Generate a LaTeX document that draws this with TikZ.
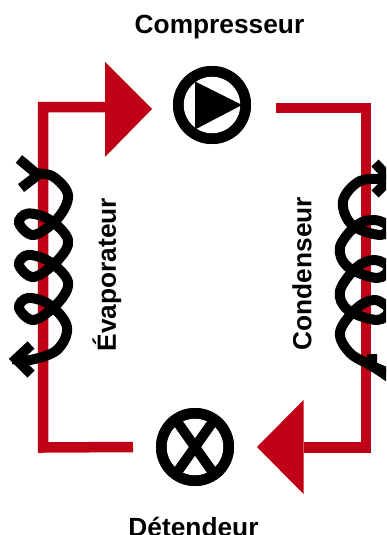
\documentclass[tikz,border=0pt]{standalone}
\usepackage{fontspec}
\setmainfont{Liberation Sans}
\definecolor{cred}{HTML}{C00014}
\tikzset{
  redline/.style={draw=cred,line width=10.5pt,line join=miter},
  redhead/.style={fill=cred,draw=none},
  ring/.style={circle,draw=black,line width=10.5pt,minimum size=67.5pt,inner sep=0pt,outer sep=0pt},
  coil/.style={draw=black,line width=10pt,line cap=butt,line join=miter},
  lab/.style={font=\fontsize{26.3}{30}\selectfont\bfseries,inner sep=0pt}
}
\begin{document}
\begin{tikzpicture}[x=1pt,y=-1pt]
\useasboundingbox (0,0) rectangle (386,535);
\clip (0,0) rectangle (386,535);
\coordinate (c1) at (43,107);
\coordinate (c2) at (366,108);
\coordinate (c3) at (366,447.5);
\coordinate (c4) at (43,447.5);
\node[ring] (comp) at (212,105) {};
\node[ring] (det) at (195,447) {};
\coordinate (a1) at (106,107);
\coordinate (a2) at (304,447.5);
% red circuit
\draw[redline] (det.west -| 133,447.5) -- (c4) -- (c1) -- (a1);
\draw[redline] (276,108) -- (c2) -- (c3) -- (a2);
\fill[redhead] (105,62) -- (152,109) -- (105,157) -- cycle;
\fill[redhead] (303.5,400) -- (257,447) -- (303.5,494) -- cycle;
% compressor triangle
\fill (195,81.5) -- (242,105) -- (195,129.5) -- cycle;
% expansion cross
\begin{scope}
\clip (det) circle (36);
\draw[line width=10pt] (171,413) -- (219,481);
\draw[line width=10pt] (219,413) -- (171,481);
\end{scope}
\node[ring] at (det) {};
\node[ring] at (comp) {};
% left coil
\draw[coil] plot[smooth,tension=0.6] coordinates {
(35,173.5) (53,176.5) (68,195) (58,218) (34,235) (19,223) (28,213.5) (50,220)
(68,240) (58,260) (34,277) (19,265) (28,255) (50,262)
(68,282) (58,303) (34,320) (19,308) (28,298) (50,305)
(67,327) (57,350) (30,360) (13,359)};
\draw[coil] (19,159) -- (38,175) -- (21,188);
\draw[coil,line cap=butt] (31,345) -- (16,359) -- (31,374);
% right coil
\draw[coil] plot[smooth,tension=0.6] coordinates {
(386,179.5) (360,181) (343,201) (352,225) (380,235) (389,227) (375,220) (357,225)
(340,247) (348,267) (377,278) (389,268) (375,260) (357,267)
(340,291) (348,310) (377,320) (389,310) (375,300) (357,308)
(340,332) (350,353) (372,366) (390,378)};
\draw[coil] (375,163) -- (390,179) -- (375,194);
\draw[coil] (372,354) -- (372,366) -- (386,372);
% labels
\node[lab] (tcomp) at (219.5,27) {Compresseur};
\node[lab] (tdet) at (193.5,527) {Détendeur};
\node[lab,rotate=90] (tevap) at (107,274.5) {Évaporateur};
\node[lab,rotate=90] (tcond) at (302,273.5) {Condenseur};
\end{tikzpicture}
\end{document}
